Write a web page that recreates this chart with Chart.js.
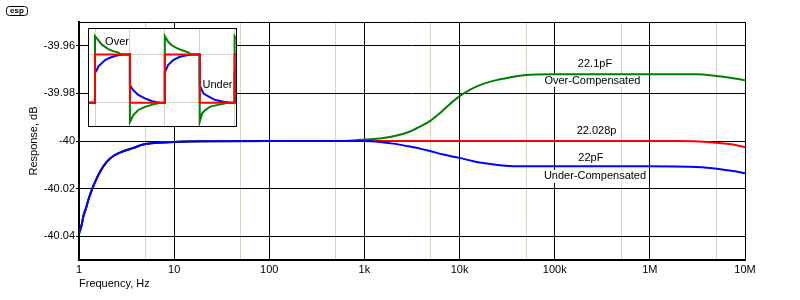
<!DOCTYPE html>
<html><head><meta charset="utf-8">
<script src="https://cdn.jsdelivr.net/npm/chart.js@4.4.1/dist/chart.umd.min.js"></script>
<style>
html,body{margin:0;padding:0;background:#fff;}
#wrap{position:relative;width:800px;height:300px;overflow:hidden;}
#main{position:absolute;left:0;top:0;}
#insetBox{position:absolute;left:88px;top:28px;width:149px;height:99px;box-sizing:border-box;border:1px solid #000;background:#fff;}
#inset{display:block;}
</style></head><body>
<div id="wrap">
<canvas id="main" width="800" height="300"></canvas>
<div id="insetBox"><canvas id="inset" width="147" height="97"></canvas></div>
</div>
<script>
// ---------- main chart data ----------
const freqUnder = [1, 1.067, 1.11, 1.185, 1.253, 1.36, 1.535, 1.663, 1.955, 2.294, 2.92, 3.72, 4.74, 6.56, 9.8, 20, 100, 973,
  1460, 2010, 2780, 3840, 4970, 6750, 9930, 13900, 19300, 26600, 39800, 55000, 927000, 4000000, 7500000, 10000000];
const respUnder = [-40.039, -40.0352, -40.0317, -40.0282, -40.0248, -40.0206, -40.0157, -40.0129, -40.0088, -40.0063, -40.0043, -40.0029, -40.0015, -40.0008, -40.0004, -40.0001, -40.0, -40.0,
  -40.0004, -40.0011, -40.0021, -40.0032, -40.0043, -40.0057, -40.0071, -40.0085, -40.0095, -40.0102, -40.0106, -40.0106, -40.0106, -40.0112, -40.0126, -40.0136];

const freqOver = [1, 1.067, 1.11, 1.185, 1.253, 1.36, 1.535, 1.663, 1.955, 2.294, 2.92, 3.72, 4.74, 6.56, 9.8, 20, 100, 500,
  900, 1580, 2180, 3010, 3840, 4970, 6260, 7930, 9930, 12800, 16300, 22600, 33500, 50300, 89000, 3100000, 5000000, 7500000, 10000000];
const respOver = [-40.039, -40.0352, -40.0317, -40.0282, -40.0248, -40.0206, -40.0157, -40.0129, -40.0088, -40.0063, -40.0043, -40.0029, -40.0015, -40.0008, -40.0004, -40.0001, -40.0, -40.0,
  -39.9995, -39.99875, -39.99767, -39.996, -39.99392, -39.99142, -39.98821, -39.98446, -39.98125, -39.9785, -39.97654, -39.97475, -39.97333, -39.97225, -39.972, -39.972, -39.9727, -39.9736, -39.9745];

const freqExact = [1, 1.067, 1.11, 1.185, 1.253, 1.36, 1.535, 1.663, 1.955, 2.294, 2.92, 3.72, 4.74, 6.56, 9.8, 20, 100, 1000,
  2000000, 4600000, 7500000, 10000000];
const respExact = [-40.039, -40.0352, -40.0317, -40.0282, -40.0248, -40.0206, -40.0157, -40.0129, -40.0088, -40.0063, -40.0043, -40.0029, -40.0015, -40.0008, -40.0004, -40.0001, -40.0, -40.0,
  -40.0, -40.0006, -40.0015, -40.0026];

const xTickValues = [1, 10, 100, 1000, 10000, 100000, 1000000, 10000000];
const xTickLabels = ['1', '10', '100', '1k', '10k', '100k', '1M', '10M'];
const xMinorValues = [5, 50, 500, 5000, 50000, 500000, 5000000];
const yTickValues = [-40.04, -40.02, -40, -39.98, -39.96];
const yTickLabels = ['-40.04', '-40.02', '-40', '-39.98', '-39.96'];

const noteTexts = ['22.1pF', 'Over-Compensated', '22.028p', '22pF', 'Under-Compensated'];
const noteFreqs = [265000, 249000, 275000, 240000, 265000];
const noteVals = [-39.9678, -39.97467, -39.99592, -40.00717, -40.01488];
const noteBoxed = [false, true, false, false, true];

// ---------- inset (square wave) data ----------
const insetTimeSquare = [0.8, 1, 1, 2, 2, 3, 3, 4, 4, 5, 5, 5.1];
const insetLevelSquare = [0, 0, 1, 1, 0, 0, 1, 1, 0, 0, 1, 1];

const insetTimeOver = [0.8, 1, 1, 1.095, 1.19, 1.29, 1.38, 1.52, 1.66, 1.75, 2,
  2, 2.095, 2.24, 2.43, 2.67, 2.8, 3,
  3, 3.095, 3.19, 3.33, 3.48, 3.67, 3.76, 4,
  4, 4.07, 4.16, 4.3, 4.49, 4.68, 4.8, 5,
  5, 5.1];
const insetLevelOver = [0, 0, 1.38, 1.30, 1.21, 1.16, 1.114, 1.07, 1.045, 1.0, 1.0,
  -0.40, -0.26, -0.15, -0.085, -0.035, -0.01, 0,
  1.38, 1.265, 1.197, 1.14, 1.093, 1.046, 1.0, 1.0,
  -0.40, -0.22, -0.15, -0.08, -0.05, -0.02, 0, 0,
  1.38, 1.28];

const insetTimeUnder = [0.8, 1, 1, 1.05, 1.095, 1.19, 1.29, 1.43, 1.57, 1.66, 1.8, 2,
  2, 2.03, 2.095, 2.24, 2.43, 2.62, 2.76, 2.9, 3,
  3, 3.03, 3.095, 3.24, 3.43, 3.67, 3.8, 4,
  4, 4.04, 4.11, 4.26, 4.45, 4.68, 4.85, 5,
  5, 5.05];
const insetLevelUnder = [0, 0, 0.62, 0.68, 0.75, 0.82, 0.886, 0.934, 0.97, 0.985, 1.0, 1.0,
  0.38, 0.33, 0.26, 0.16, 0.09, 0.035, 0.01, 0, 0,
  0.62, 0.68, 0.78, 0.886, 0.954, 0.99, 1.0, 1.0,
  0.36, 0.30, 0.19, 0.125, 0.056, 0.02, 0, 0,
  0.62, 0.68];
const insetGridT = [1, 2, 3, 4, 5];
const insetGridV = [0, 1];
const insetTexts = ['Over', 'Under'];
const insetTextT = [1.63, 4.51];
const insetTextV = [1.27, 0.365];

// ---------- helpers ----------
const pts = (xs, ys) => xs.map((x, i) => ({x: x, y: ys[i]}));
const MINOR = '#d6d3c2';
Chart.defaults.font.family = "'Liberation Sans', Arial, sans-serif";
Chart.defaults.font.size = 11;
Chart.defaults.color = '#000';

const isDecade = v => Math.abs(Math.log10(v) - Math.round(Math.log10(v))) < 1e-9;

const framePlugin = {
  id: 'frame',
  beforeDatasetsDraw(chart) {
    const {ctx, chartArea: a} = chart;
    ctx.save();
    ctx.strokeStyle = '#000';
    ctx.lineWidth = 1;
    ctx.beginPath();
    ctx.moveTo(a.left, Math.round(a.top) + 0.5);
    ctx.lineTo(a.right + 0.5, Math.round(a.top) + 0.5);
    ctx.lineTo(a.right + 0.5, a.bottom);
    ctx.stroke();
    // notes behind curves
    const xs = chart.scales.x, ys = chart.scales.y;
    ctx.font = "11px 'Liberation Sans', Arial, sans-serif";
    ctx.textAlign = 'center';
    ctx.textBaseline = 'middle';
    noteTexts.forEach((t, i) => {
      const px = xs.getPixelForValue(noteFreqs[i]);
      const py = ys.getPixelForValue(noteVals[i]);
      if (noteBoxed[i]) {
        const w = ctx.measureText(t).width;
        ctx.fillStyle = '#fff';
        ctx.fillRect(Math.round(px - w / 2 - 3), Math.round(py - 6.5), Math.round(w + 6), 13);
      }
      ctx.fillStyle = '#000';
      ctx.fillText(t, px, py);
    });
    ctx.restore();
  },
  afterDraw(chart) {
    const ctx = chart.ctx;
    ctx.save();
    ctx.strokeStyle = '#000';
    ctx.lineWidth = 1;
    ctx.beginPath();
    if (ctx.roundRect) ctx.roundRect(6.5, 6.5, 21, 9, 3); else ctx.rect(6.5, 6.5, 21, 9);
    ctx.stroke();
    ctx.fillStyle = '#000';
    ctx.font = "bold 8px 'Liberation Sans', Arial, sans-serif";
    ctx.textAlign = 'center';
    ctx.textBaseline = 'middle';
    ctx.fillText('esp', 17, 11);
    ctx.restore();
  }
};

new Chart(document.getElementById('main'), {
  type: 'line',
  data: {
    datasets: [
      {label: '22pF', data: pts(freqUnder, respUnder), borderColor: '#0000ff', borderWidth: 2, pointRadius: 0, cubicInterpolationMode: 'monotone'},
      {label: '22.1pF', data: pts(freqOver, respOver), borderColor: '#008000', borderWidth: 2, pointRadius: 0, cubicInterpolationMode: 'monotone'},
      {label: '22.028p', data: pts(freqExact, respExact), borderColor: '#ff0000', borderWidth: 2, pointRadius: 0, cubicInterpolationMode: 'monotone'}
    ]
  },
  options: {
    responsive: false, animation: false, devicePixelRatio: 1,
    layout: {padding: {left: 0, right: 55, top: 22, bottom: 0}},
    plugins: {legend: {display: false}, tooltip: {enabled: false}},
    scales: {
      x: {
        type: 'logarithmic', min: 1, max: 10000000,
        afterBuildTicks: s => { s.ticks = xTickValues.concat(xMinorValues).sort((a, b) => a - b).map(v => ({value: v})); },
        afterFit: s => { s.height = 40; },
        ticks: {autoSkip: false, maxRotation: 0, minRotation: 0, padding: 3, color: '#000',
          callback: v => { const i = xTickValues.indexOf(v); return i >= 0 ? xTickLabels[i] : ''; }},
        grid: {drawTicks: false, lineWidth: 1, color: c => (c.tick && !isDecade(c.tick.value)) ? MINOR : '#000'},
        border: {color: '#000', width: 2},
        title: {display: true, text: 'Frequency, Hz', align: 'start', color: '#000', padding: {top: 0, bottom: 9}}
      },
      y: {
        min: -40.05, max: -39.95,
        afterBuildTicks: s => { s.ticks = yTickValues.map(v => ({value: v})); },
        afterFit: s => { s.width = 79; },
        ticks: {padding: 1, color: '#000',
          callback: v => { const i = yTickValues.findIndex(t => Math.abs(t - v) < 1e-9); return i >= 0 ? yTickLabels[i] : ''; }},
        grid: {color: '#000', lineWidth: 1, drawTicks: true, tickLength: 3},
        border: {color: '#000', width: 2},
        title: {display: true, text: 'Response, dB', color: '#000', padding: {top: 27, bottom: 0}}
      }
    }
  },
  plugins: [framePlugin]
});

const insetTextPlugin = {
  id: 'insetText',
  afterDatasetsDraw(chart) {
    const {ctx} = chart;
    const xs = chart.scales.x, ys = chart.scales.y;
    ctx.save();
    ctx.font = "11px 'Liberation Sans', Arial, sans-serif";
    ctx.fillStyle = '#000';
    ctx.textAlign = 'center';
    ctx.textBaseline = 'middle';
    insetTexts.forEach((t, i) => ctx.fillText(t, xs.getPixelForValue(insetTextT[i]), ys.getPixelForValue(insetTextV[i])));
    ctx.restore();
  }
};

new Chart(document.getElementById('inset'), {
  type: 'line',
  data: {
    datasets: [
      {data: pts(insetTimeSquare, insetLevelSquare), borderColor: '#ff0000', borderWidth: 2, pointRadius: 0, tension: 0},
      {data: pts(insetTimeOver, insetLevelOver), borderColor: '#008000', borderWidth: 2, pointRadius: 0, tension: 0},
      {data: pts(insetTimeUnder, insetLevelUnder), borderColor: '#0000ff', borderWidth: 2, pointRadius: 0, tension: 0}
    ]
  },
  options: {
    responsive: false, animation: false, devicePixelRatio: 1,
    layout: {padding: 0},
    plugins: {legend: {display: false}, tooltip: {enabled: false}},
    scales: {
      x: {type: 'linear', min: 0.828, max: 5.04,
        afterBuildTicks: s => { s.ticks = insetGridT.map(v => ({value: v})); },
        afterFit: s => { s.height = 0; },
        ticks: {display: false}, grid: {color: MINOR, drawTicks: false}, border: {display: false}},
      y: {type: 'linear', min: -0.483, max: 1.53,
        afterBuildTicks: s => { s.ticks = insetGridV.map(v => ({value: v})); },
        afterFit: s => { s.width = 0; },
        ticks: {display: false}, grid: {color: MINOR, drawTicks: false}, border: {display: false}}
    }
  },
  plugins: [insetTextPlugin]
});
</script>
</body></html>
